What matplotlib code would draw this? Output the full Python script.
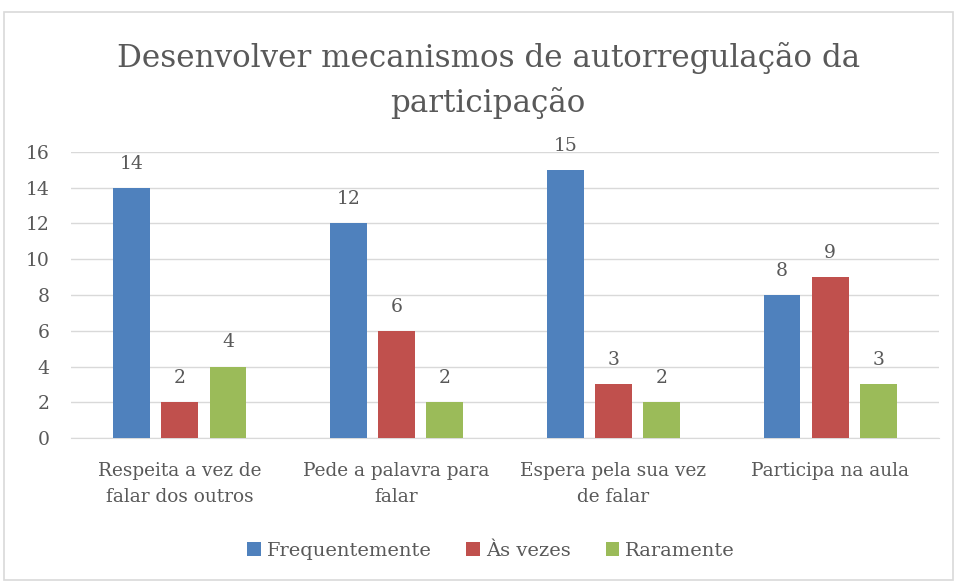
import numpy as np
import matplotlib.pyplot as plt
from matplotlib.patches import Rectangle

# --- data ---
categories = ["Respeita a vez de\nfalar dos outros", "Pede a palavra para\nfalar",
              "Espera pela sua vez\nde falar", "Participa na aula"]
series_names = ["Frequentemente", "Às vezes", "Raramente"]
frequentemente = [14, 12, 15, 8]
as_vezes = [2, 6, 3, 9]
raramente = [4, 2, 2, 3]
y_ticks = [0, 2, 4, 6, 8, 10, 12, 14, 16]
title_lines = ["Desenvolver mecanismos de autorregulação da", "participação"]

colors = ["#4F81BD", "#C0504D", "#9BBB59"]
text_color = "#595959"
plt.rcParams['font.family'] = ['DejaVu Serif']

fig = plt.figure(figsize=(9.57, 5.81), dpi=100)
fig.patches.append(Rectangle((0.004, 0.002), 0.992, 0.978, transform=fig.transFigure,
                             fill=False, edgecolor="#D9D9D9", linewidth=1.2))
ax = fig.add_axes([0.0747, 0.2461, 0.906, 0.4923])

x = np.arange(len(categories))
width = 0.17
offset = 0.222
all_series = [frequentemente, as_vezes, raramente]
for i, (vals, name) in enumerate(zip(all_series, series_names)):
    pos = x + (i - 1) * offset
    bars = ax.bar(pos, vals, width, color=colors[i], label=name, zorder=3)
    for b, v in zip(bars, vals):
        ax.text(b.get_x() + b.get_width() / 2, v + 0.85, str(v), ha="center", va="bottom",
                fontsize=13.5, color=text_color)

ax.set_xlim(-0.5, len(categories) - 0.5)
ax.set_ylim(0, 16)
ax.set_yticks(y_ticks)
ax.set_xticks(x)
ax.set_xticklabels(categories, fontsize=13.3, color=text_color, linespacing=1.6)
ax.tick_params(axis="y", labelsize=13.5, labelcolor=text_color, length=0, pad=16)
ax.tick_params(axis="x", length=0, pad=17)
ax.grid(axis="y", color="#D9D9D9", linewidth=1, zorder=0)
for s in ["top", "right", "left"]:
    ax.spines[s].set_visible(False)
ax.spines["bottom"].set_color("#D9D9D9")

# title: two wrapped lines, placed by baseline
fig.text(0.51, 1 - 67 / 581, title_lines[0], ha="center", va="baseline",
         fontsize=22.3, color=text_color)
fig.text(0.51, 1 - 112 / 581, title_lines[1], ha="center", va="baseline",
         fontsize=22.3, color=text_color)

ax.legend(loc="center", bbox_to_anchor=(0.513, 0.052), bbox_transform=fig.transFigure,
          ncol=3, frameon=False, fontsize=14, labelcolor=text_color,
          handlelength=0.7, handleheight=0.7, handletextpad=0.3, columnspacing=1.8)

fig.savefig("out.png", dpi=100)
